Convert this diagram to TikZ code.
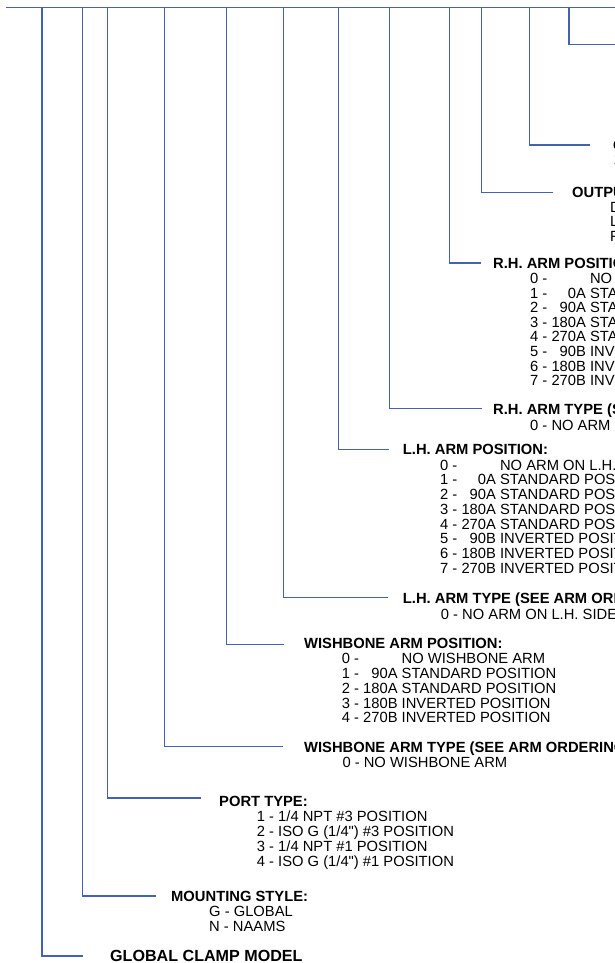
\documentclass[tikz,border=0pt]{standalone}
\usepackage{fontspec}
\setmainfont{Liberation Sans}[Ligatures=TeXOff]
\definecolor{linkblue}{RGB}{68,98,178}
\newcommand{\armtab}[1]{\begin{tabular}[t]{@{}l@{\ }r@{\ }l@{}}#1\end{tabular}}
\newcommand{\onetab}[1]{\begin{tabular}[t]{@{}l@{}}#1\end{tabular}}
\begin{document}
\begin{tikzpicture}[x=1pt,y=-1pt,
  link/.style={draw=linkblue, line width=1.4pt, line join=miter},
  hdr/.style={anchor=base west, inner sep=0pt, font=\fontsize{14.75}{14.7}\selectfont\bfseries},
  items/.style={anchor=base west, inner sep=0pt, font=\fontsize{14.75}{#1}\selectfont},
  items/.default=14.7
]
\useasboundingbox (0,0) rectangle (615,963);
\clip (0,0) rectangle (615,963);

% top bus line
\coordinate (top0) at (6,7.5);
\coordinate (top1) at (620,7.5);
\draw[link] (top0) -- (top1);

% vertical start points and horizontal ends
\coordinate (vA) at (568.8,7.5); \coordinate (eA) at (620,44.3);
\coordinate (vB) at (529.6,7.5); \coordinate (eB) at (589.5,145);
\coordinate (vC) at (481.2,7.5); \coordinate (eC) at (552.5,192.7);
\coordinate (vD) at (449.2,7.5); \coordinate (eD) at (481,262.8);
\coordinate (vE) at (389.4,7.5); \coordinate (eE) at (481.5,408.3);
\coordinate (vF) at (338.5,7.5); \coordinate (eF) at (389.3,449.3);
\coordinate (vG) at (283.5,7.5); \coordinate (eG) at (388.3,597.7);
\coordinate (vH) at (226.7,7.5); \coordinate (eH) at (284,644.5);
\coordinate (vI) at (164.5,7.5); \coordinate (eI) at (283.3,746.3);
\coordinate (vJ) at (107.2,7.5); \coordinate (eJ) at (201,798);
\coordinate (vK) at (82.5,7.5);  \coordinate (eK) at (155.5,895.8);
\coordinate (vL) at (41.8,7.5);  \coordinate (eL) at (82.7,956);

\foreach \k in {A,B,C,D,E,F,G,H,I,J,K,L}
  \draw[link] (v\k) |- (e\k);

% headers (baseline = cap centre + 5.3)
\node[hdr] (hB) at (613,150.3) {C};
\node[hdr] (hC) at (572,197.0) {OUTPUT:};
\node[hdr] (hD) at (493,268.6) {R.H. ARM POSITION:};
\node[hdr] (hE) at (493,414.0) {R.H. ARM TYPE (SEE ARM ORDERING INFO):};
\node[hdr] (hF) at (402.7,454.6) {L.H. ARM POSITION:};
\node[hdr] (hG) at (402.7,603.0) {L.H. ARM TYPE (SEE ARM ORDERING INFO):};
\node[hdr] (hH) at (304,648.1) {WISHBONE ARM POSITION:};
\node[hdr] (hI) at (304,752.0) {WISHBONE ARM TYPE (SEE ARM ORDERING INFO):};
\node[hdr] (hJ) at (219,806.1) {PORT TYPE:};
\node[hdr] (hK) at (171,901.3) {MOUNTING STYLE:};
\node[hdr, font=\fontsize{16.1}{16}\selectfont\bfseries] (hL) at (110,961.8) {GLOBAL CLAMP MODEL};

% item lists
\node[items] (iB) at (613.3,164.8) {\onetab{1}};
\node[items] (iC) at (610,212.0) {\onetab{D\\ L\\ F}};
\node[items=14.3] (iD) at (530,283.6) {\armtab{
  0 - & & NO ARM ON R.H. SIDE\\
  1 - & 0A & STANDARD POSITION\\
  2 - & 90A & STANDARD POSITION\\
  3 - & 180A & STANDARD POSITION\\
  4 - & 270A & STANDARD POSITION\\
  5 - & 90B & INVERTED POSITION\\
  6 - & 180B & INVERTED POSITION\\
  7 - & 270B & INVERTED POSITION}};
\node[items] (iE) at (530,430.3) {\onetab{0 - NO ARM ON R.H. SIDE}};
\node[items=14.6] (iF) at (440,470.3) {\armtab{
  0 - & & NO ARM ON L.H. SIDE\\
  1 - & 0A & STANDARD POSITION\\
  2 - & 90A & STANDARD POSITION\\
  3 - & 180A & STANDARD POSITION\\
  4 - & 270A & STANDARD POSITION\\
  5 - & 90B & INVERTED POSITION\\
  6 - & 180B & INVERTED POSITION\\
  7 - & 270B & INVERTED POSITION}};
\node[items] (iG) at (440.7,619.6) {\onetab{0 - NO ARM ON L.H. SIDE}};
\node[items=14.9] (iH) at (341.7,663.3) {\armtab{
  0 - & & NO WISHBONE ARM\\
  1 - & 90A & STANDARD POSITION\\
  2 - & 180A & STANDARD POSITION\\
  3 - & 180B & INVERTED POSITION\\
  4 - & 270B & INVERTED POSITION}};
\node[items] (iI) at (342.3,767.6) {\onetab{0 - NO WISHBONE ARM}};
\node[items=15.0] (iJ) at (256.7,821.0) {\onetab{
  1 - 1/4 NPT \#3 POSITION\\
  2 - ISO G (1/4") \#3 POSITION\\
  3 - 1/4 NPT \#1 POSITION\\
  4 - ISO G (1/4") \#1 POSITION}};
\node[items=15.0] (iK) at (209,916.0) {\onetab{G - GLOBAL\\ N - NAAMS}};
\end{tikzpicture}
\end{document}
